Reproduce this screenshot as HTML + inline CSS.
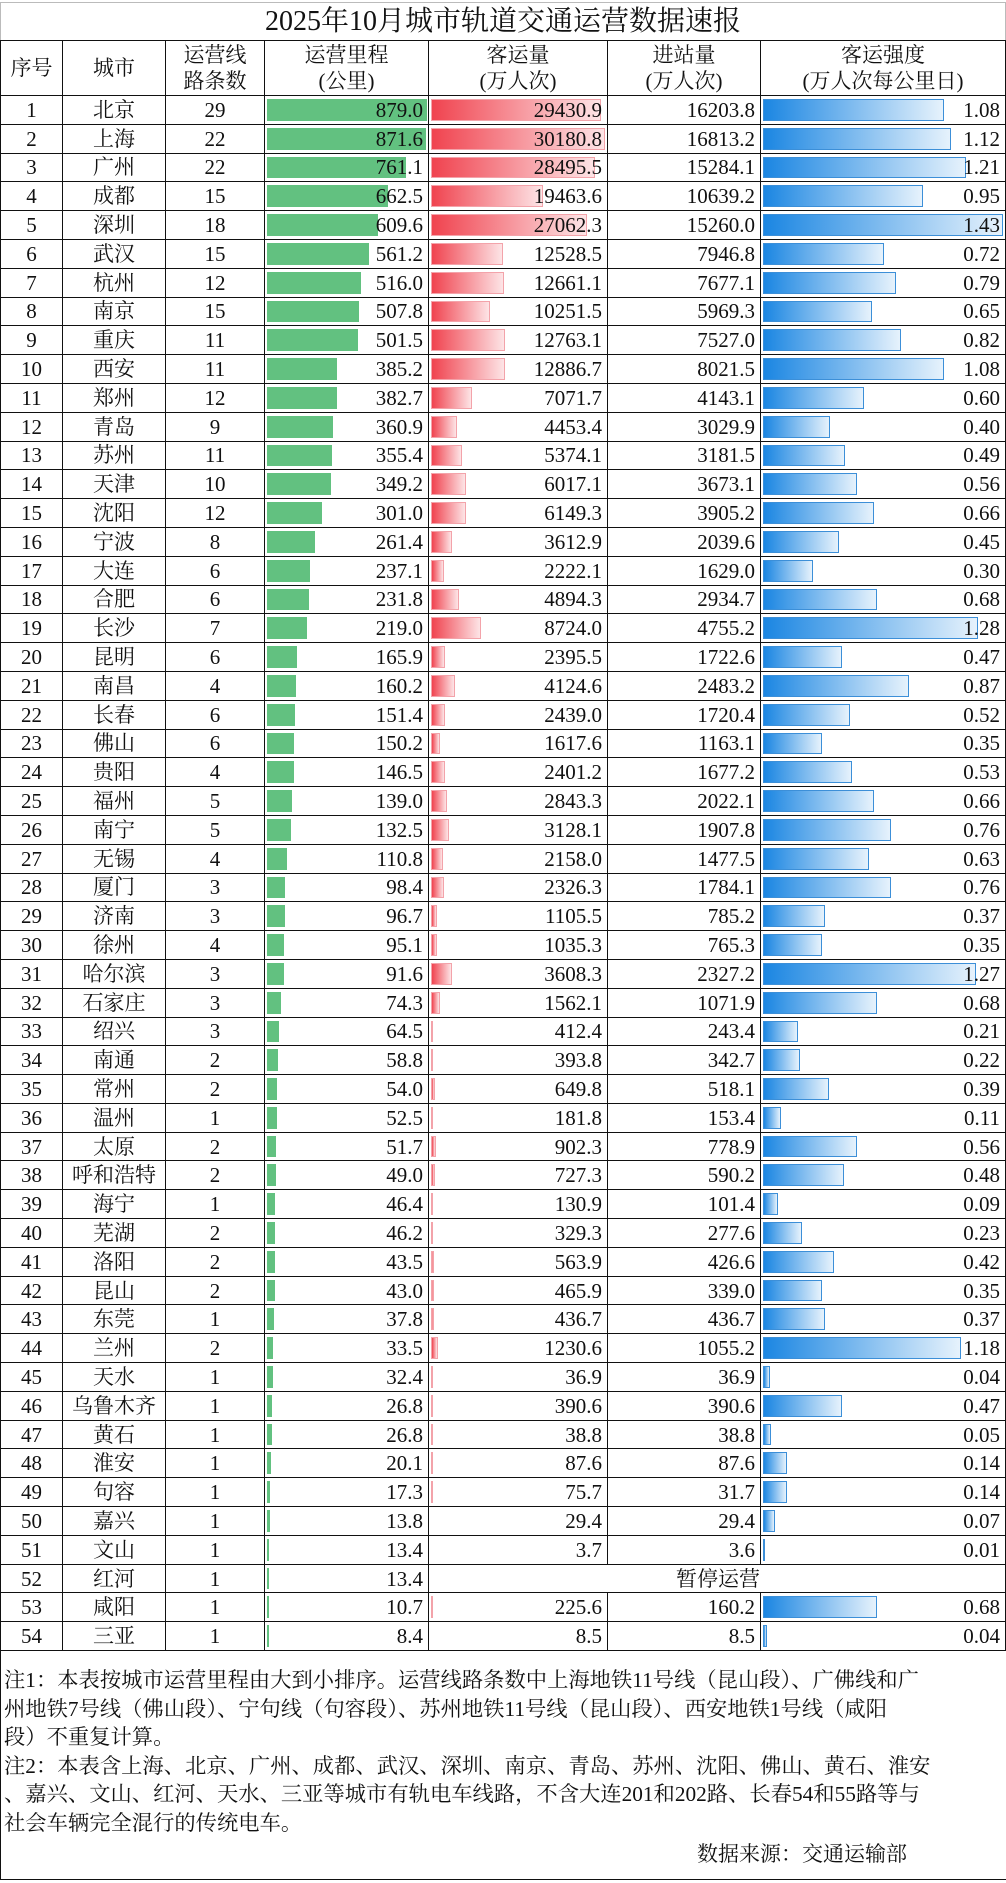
<!DOCTYPE html>
<html><head><meta charset="utf-8">
<style>
*{margin:0;padding:0;box-sizing:border-box}
body{width:1006px;height:1883px;background:#fff;font-family:"Liberation Serif","Noto Serif CJK SC",serif;color:#111;overflow:hidden;position:relative}
.title{position:absolute;left:0;top:2px;width:1006px;height:38px;border:1px solid #bbb;border-bottom:none;text-align:center;font-size:28px;line-height:38px}
table{position:absolute;left:0;top:40px;border-collapse:collapse;table-layout:fixed;width:1005px}
td{border:1.5px solid #111;position:relative;font-size:21px;height:28.8px;padding:0 5px;text-align:right;white-space:nowrap;line-height:26px}
tr.h td{height:55px;text-align:center;line-height:26px;font-size:21px}
td.c{text-align:center;padding:0}
td span{position:relative}
i{position:absolute;left:2px;top:3px;bottom:3px;display:block}
.g i{background:#62c180}
.r i{background:linear-gradient(90deg,#f0434f,#fde4e6);border:1px solid #f3a3aa}
.b i{background:linear-gradient(90deg,#1b86e2,#e6f2fc);border:1px solid #3c8fd8}
.notes{position:absolute;left:4px;top:1666px;font-size:21.3px;line-height:28.5px;white-space:nowrap;font-family:"Liberation Serif","Noto Serif CJK SC",serif}
.src{position:absolute;left:697px;top:1838px;font-size:21px}
.bot{position:absolute;left:0;top:1879px;width:1006px;border-top:1.5px solid #111}
.lb{position:absolute;left:0;top:1647px;height:233px;border-left:1.5px solid #111}
</style></head><body>
<div class="title">2025年10月城市轨道交通运营数据速报</div>
<table>
<colgroup><col style="width:62px"><col style="width:103px"><col style="width:99px"><col style="width:164px"><col style="width:179px"><col style="width:153px"><col style="width:245px"></colgroup>
<tr class="h"><td>序号</td><td>城市</td><td>运营线<br>路条数</td><td>运营里程<br>(公里)</td><td>客运量<br>(万人次)</td><td>进站量<br>(万人次)</td><td>客运强度<br>(万人次每公里日)</td></tr>
<tr style="height:25px"><td class="c" style="height:25px">1</td><td class="c">北京</td><td class="c">29</td><td class="g"><i style="width:160px"></i><span>879.0</span></td><td class="r"><i style="width:170px"></i><span>29430.9</span></td><td>16203.8</td><td class="b"><i style="width:181px"></i><span>1.08</span></td></tr>
<tr><td class="c">2</td><td class="c">上海</td><td class="c">22</td><td class="g"><i style="width:159px"></i><span>871.6</span></td><td class="r"><i style="width:174px"></i><span>30180.8</span></td><td>16813.2</td><td class="b"><i style="width:188px"></i><span>1.12</span></td></tr>
<tr><td class="c">3</td><td class="c">广州</td><td class="c">22</td><td class="g"><i style="width:139px"></i><span>761.1</span></td><td class="r"><i style="width:164px"></i><span>28495.5</span></td><td>15284.1</td><td class="b"><i style="width:203px"></i><span>1.21</span></td></tr>
<tr><td class="c">4</td><td class="c">成都</td><td class="c">15</td><td class="g"><i style="width:121px"></i><span>662.5</span></td><td class="r"><i style="width:112px"></i><span>19463.6</span></td><td>10639.2</td><td class="b"><i style="width:160px"></i><span>0.95</span></td></tr>
<tr><td class="c">5</td><td class="c">深圳</td><td class="c">18</td><td class="g"><i style="width:111px"></i><span>609.6</span></td><td class="r"><i style="width:156px"></i><span>27062.3</span></td><td>15260.0</td><td class="b"><i style="width:240px"></i><span>1.43</span></td></tr>
<tr><td class="c">6</td><td class="c">武汉</td><td class="c">15</td><td class="g"><i style="width:102px"></i><span>561.2</span></td><td class="r"><i style="width:72px"></i><span>12528.5</span></td><td>7946.8</td><td class="b"><i style="width:121px"></i><span>0.72</span></td></tr>
<tr><td class="c">7</td><td class="c">杭州</td><td class="c">12</td><td class="g"><i style="width:94px"></i><span>516.0</span></td><td class="r"><i style="width:73px"></i><span>12661.1</span></td><td>7677.1</td><td class="b"><i style="width:133px"></i><span>0.79</span></td></tr>
<tr><td class="c">8</td><td class="c">南京</td><td class="c">15</td><td class="g"><i style="width:92px"></i><span>507.8</span></td><td class="r"><i style="width:59px"></i><span>10251.5</span></td><td>5969.3</td><td class="b"><i style="width:109px"></i><span>0.65</span></td></tr>
<tr><td class="c">9</td><td class="c">重庆</td><td class="c">11</td><td class="g"><i style="width:91px"></i><span>501.5</span></td><td class="r"><i style="width:74px"></i><span>12763.1</span></td><td>7527.0</td><td class="b"><i style="width:138px"></i><span>0.82</span></td></tr>
<tr><td class="c">10</td><td class="c">西安</td><td class="c">11</td><td class="g"><i style="width:70px"></i><span>385.2</span></td><td class="r"><i style="width:74px"></i><span>12886.7</span></td><td>8021.5</td><td class="b"><i style="width:181px"></i><span>1.08</span></td></tr>
<tr><td class="c">11</td><td class="c">郑州</td><td class="c">12</td><td class="g"><i style="width:70px"></i><span>382.7</span></td><td class="r"><i style="width:41px"></i><span>7071.7</span></td><td>4143.1</td><td class="b"><i style="width:101px"></i><span>0.60</span></td></tr>
<tr><td class="c">12</td><td class="c">青岛</td><td class="c">9</td><td class="g"><i style="width:66px"></i><span>360.9</span></td><td class="r"><i style="width:26px"></i><span>4453.4</span></td><td>3029.9</td><td class="b"><i style="width:67px"></i><span>0.40</span></td></tr>
<tr><td class="c">13</td><td class="c">苏州</td><td class="c">11</td><td class="g"><i style="width:65px"></i><span>355.4</span></td><td class="r"><i style="width:31px"></i><span>5374.1</span></td><td>3181.5</td><td class="b"><i style="width:82px"></i><span>0.49</span></td></tr>
<tr><td class="c">14</td><td class="c">天津</td><td class="c">10</td><td class="g"><i style="width:64px"></i><span>349.2</span></td><td class="r"><i style="width:35px"></i><span>6017.1</span></td><td>3673.1</td><td class="b"><i style="width:94px"></i><span>0.56</span></td></tr>
<tr><td class="c">15</td><td class="c">沈阳</td><td class="c">12</td><td class="g"><i style="width:55px"></i><span>301.0</span></td><td class="r"><i style="width:35px"></i><span>6149.3</span></td><td>3905.2</td><td class="b"><i style="width:111px"></i><span>0.66</span></td></tr>
<tr><td class="c">16</td><td class="c">宁波</td><td class="c">8</td><td class="g"><i style="width:48px"></i><span>261.4</span></td><td class="r"><i style="width:21px"></i><span>3612.9</span></td><td>2039.6</td><td class="b"><i style="width:76px"></i><span>0.45</span></td></tr>
<tr><td class="c">17</td><td class="c">大连</td><td class="c">6</td><td class="g"><i style="width:43px"></i><span>237.1</span></td><td class="r"><i style="width:13px"></i><span>2222.1</span></td><td>1629.0</td><td class="b"><i style="width:50px"></i><span>0.30</span></td></tr>
<tr><td class="c">18</td><td class="c">合肥</td><td class="c">6</td><td class="g"><i style="width:42px"></i><span>231.8</span></td><td class="r"><i style="width:28px"></i><span>4894.3</span></td><td>2934.7</td><td class="b"><i style="width:114px"></i><span>0.68</span></td></tr>
<tr><td class="c">19</td><td class="c">长沙</td><td class="c">7</td><td class="g"><i style="width:40px"></i><span>219.0</span></td><td class="r"><i style="width:50px"></i><span>8724.0</span></td><td>4755.2</td><td class="b"><i style="width:215px"></i><span>1.28</span></td></tr>
<tr><td class="c">20</td><td class="c">昆明</td><td class="c">6</td><td class="g"><i style="width:30px"></i><span>165.9</span></td><td class="r"><i style="width:14px"></i><span>2395.5</span></td><td>1722.6</td><td class="b"><i style="width:79px"></i><span>0.47</span></td></tr>
<tr><td class="c">21</td><td class="c">南昌</td><td class="c">4</td><td class="g"><i style="width:29px"></i><span>160.2</span></td><td class="r"><i style="width:24px"></i><span>4124.6</span></td><td>2483.2</td><td class="b"><i style="width:146px"></i><span>0.87</span></td></tr>
<tr><td class="c">22</td><td class="c">长春</td><td class="c">6</td><td class="g"><i style="width:28px"></i><span>151.4</span></td><td class="r"><i style="width:14px"></i><span>2439.0</span></td><td>1720.4</td><td class="b"><i style="width:87px"></i><span>0.52</span></td></tr>
<tr><td class="c">23</td><td class="c">佛山</td><td class="c">6</td><td class="g"><i style="width:27px"></i><span>150.2</span></td><td class="r"><i style="width:9px"></i><span>1617.6</span></td><td>1163.1</td><td class="b"><i style="width:59px"></i><span>0.35</span></td></tr>
<tr><td class="c">24</td><td class="c">贵阳</td><td class="c">4</td><td class="g"><i style="width:27px"></i><span>146.5</span></td><td class="r"><i style="width:14px"></i><span>2401.2</span></td><td>1677.2</td><td class="b"><i style="width:89px"></i><span>0.53</span></td></tr>
<tr><td class="c">25</td><td class="c">福州</td><td class="c">5</td><td class="g"><i style="width:25px"></i><span>139.0</span></td><td class="r"><i style="width:16px"></i><span>2843.3</span></td><td>2022.1</td><td class="b"><i style="width:111px"></i><span>0.66</span></td></tr>
<tr><td class="c">26</td><td class="c">南宁</td><td class="c">5</td><td class="g"><i style="width:24px"></i><span>132.5</span></td><td class="r"><i style="width:18px"></i><span>3128.1</span></td><td>1907.8</td><td class="b"><i style="width:128px"></i><span>0.76</span></td></tr>
<tr><td class="c">27</td><td class="c">无锡</td><td class="c">4</td><td class="g"><i style="width:20px"></i><span>110.8</span></td><td class="r"><i style="width:12px"></i><span>2158.0</span></td><td>1477.5</td><td class="b"><i style="width:106px"></i><span>0.63</span></td></tr>
<tr><td class="c">28</td><td class="c">厦门</td><td class="c">3</td><td class="g"><i style="width:18px"></i><span>98.4</span></td><td class="r"><i style="width:13px"></i><span>2326.3</span></td><td>1784.1</td><td class="b"><i style="width:128px"></i><span>0.76</span></td></tr>
<tr><td class="c">29</td><td class="c">济南</td><td class="c">3</td><td class="g"><i style="width:18px"></i><span>96.7</span></td><td class="r"><i style="width:6px"></i><span>1105.5</span></td><td>785.2</td><td class="b"><i style="width:62px"></i><span>0.37</span></td></tr>
<tr><td class="c">30</td><td class="c">徐州</td><td class="c">4</td><td class="g"><i style="width:17px"></i><span>95.1</span></td><td class="r"><i style="width:6px"></i><span>1035.3</span></td><td>765.3</td><td class="b"><i style="width:59px"></i><span>0.35</span></td></tr>
<tr><td class="c">31</td><td class="c">哈尔滨</td><td class="c">3</td><td class="g"><i style="width:17px"></i><span>91.6</span></td><td class="r"><i style="width:21px"></i><span>3608.3</span></td><td>2327.2</td><td class="b"><i style="width:213px"></i><span>1.27</span></td></tr>
<tr><td class="c">32</td><td class="c">石家庄</td><td class="c">3</td><td class="g"><i style="width:14px"></i><span>74.3</span></td><td class="r"><i style="width:9px"></i><span>1562.1</span></td><td>1071.9</td><td class="b"><i style="width:114px"></i><span>0.68</span></td></tr>
<tr><td class="c">33</td><td class="c">绍兴</td><td class="c">3</td><td class="g"><i style="width:12px"></i><span>64.5</span></td><td class="r"><i style="width:2px"></i><span>412.4</span></td><td>243.4</td><td class="b"><i style="width:35px"></i><span>0.21</span></td></tr>
<tr><td class="c">34</td><td class="c">南通</td><td class="c">2</td><td class="g"><i style="width:11px"></i><span>58.8</span></td><td class="r"><i style="width:2px"></i><span>393.8</span></td><td>342.7</td><td class="b"><i style="width:37px"></i><span>0.22</span></td></tr>
<tr><td class="c">35</td><td class="c">常州</td><td class="c">2</td><td class="g"><i style="width:10px"></i><span>54.0</span></td><td class="r"><i style="width:4px"></i><span>649.8</span></td><td>518.1</td><td class="b"><i style="width:66px"></i><span>0.39</span></td></tr>
<tr><td class="c">36</td><td class="c">温州</td><td class="c">1</td><td class="g"><i style="width:10px"></i><span>52.5</span></td><td class="r"><i style="width:1px"></i><span>181.8</span></td><td>153.4</td><td class="b"><i style="width:18px"></i><span>0.11</span></td></tr>
<tr><td class="c">37</td><td class="c">太原</td><td class="c">2</td><td class="g"><i style="width:9px"></i><span>51.7</span></td><td class="r"><i style="width:5px"></i><span>902.3</span></td><td>778.9</td><td class="b"><i style="width:94px"></i><span>0.56</span></td></tr>
<tr><td class="c">38</td><td class="c">呼和浩特</td><td class="c">2</td><td class="g"><i style="width:9px"></i><span>49.0</span></td><td class="r"><i style="width:4px"></i><span>727.3</span></td><td>590.2</td><td class="b"><i style="width:81px"></i><span>0.48</span></td></tr>
<tr><td class="c">39</td><td class="c">海宁</td><td class="c">1</td><td class="g"><i style="width:8px"></i><span>46.4</span></td><td class="r"><i style="width:1px"></i><span>130.9</span></td><td>101.4</td><td class="b"><i style="width:15px"></i><span>0.09</span></td></tr>
<tr><td class="c">40</td><td class="c">芜湖</td><td class="c">2</td><td class="g"><i style="width:8px"></i><span>46.2</span></td><td class="r"><i style="width:2px"></i><span>329.3</span></td><td>277.6</td><td class="b"><i style="width:39px"></i><span>0.23</span></td></tr>
<tr><td class="c">41</td><td class="c">洛阳</td><td class="c">2</td><td class="g"><i style="width:8px"></i><span>43.5</span></td><td class="r"><i style="width:3px"></i><span>563.9</span></td><td>426.6</td><td class="b"><i style="width:71px"></i><span>0.42</span></td></tr>
<tr><td class="c">42</td><td class="c">昆山</td><td class="c">2</td><td class="g"><i style="width:8px"></i><span>43.0</span></td><td class="r"><i style="width:3px"></i><span>465.9</span></td><td>339.0</td><td class="b"><i style="width:59px"></i><span>0.35</span></td></tr>
<tr><td class="c">43</td><td class="c">东莞</td><td class="c">1</td><td class="g"><i style="width:7px"></i><span>37.8</span></td><td class="r"><i style="width:3px"></i><span>436.7</span></td><td>436.7</td><td class="b"><i style="width:62px"></i><span>0.37</span></td></tr>
<tr><td class="c">44</td><td class="c">兰州</td><td class="c">2</td><td class="g"><i style="width:6px"></i><span>33.5</span></td><td class="r"><i style="width:7px"></i><span>1230.6</span></td><td>1055.2</td><td class="b"><i style="width:198px"></i><span>1.18</span></td></tr>
<tr><td class="c">45</td><td class="c">天水</td><td class="c">1</td><td class="g"><i style="width:6px"></i><span>32.4</span></td><td class="r"><i style="width:1px"></i><span>36.9</span></td><td>36.9</td><td class="b"><i style="width:7px"></i><span>0.04</span></td></tr>
<tr><td class="c">46</td><td class="c">乌鲁木齐</td><td class="c">1</td><td class="g"><i style="width:5px"></i><span>26.8</span></td><td class="r"><i style="width:2px"></i><span>390.6</span></td><td>390.6</td><td class="b"><i style="width:79px"></i><span>0.47</span></td></tr>
<tr><td class="c">47</td><td class="c">黄石</td><td class="c">1</td><td class="g"><i style="width:5px"></i><span>26.8</span></td><td class="r"><i style="width:1px"></i><span>38.8</span></td><td>38.8</td><td class="b"><i style="width:8px"></i><span>0.05</span></td></tr>
<tr><td class="c">48</td><td class="c">淮安</td><td class="c">1</td><td class="g"><i style="width:4px"></i><span>20.1</span></td><td class="r"><i style="width:1px"></i><span>87.6</span></td><td>87.6</td><td class="b"><i style="width:24px"></i><span>0.14</span></td></tr>
<tr><td class="c">49</td><td class="c">句容</td><td class="c">1</td><td class="g"><i style="width:3px"></i><span>17.3</span></td><td class="r"><i style="width:1px"></i><span>75.7</span></td><td>31.7</td><td class="b"><i style="width:24px"></i><span>0.14</span></td></tr>
<tr><td class="c">50</td><td class="c">嘉兴</td><td class="c">1</td><td class="g"><i style="width:3px"></i><span>13.8</span></td><td>29.4</td><td>29.4</td><td class="b"><i style="width:12px"></i><span>0.07</span></td></tr>
<tr><td class="c">51</td><td class="c">文山</td><td class="c">1</td><td class="g"><i style="width:2px"></i><span>13.4</span></td><td>3.7</td><td>3.6</td><td class="b"><i style="width:2px"></i><span>0.01</span></td></tr>
<tr><td class="c">52</td><td class="c">红河</td><td class="c">1</td><td class="g"><i style="width:2px"></i><span>13.4</span></td><td colspan="3" style="text-align:left;padding-left:247px">暂停运营</td></tr>
<tr><td class="c">53</td><td class="c">咸阳</td><td class="c">1</td><td class="g"><i style="width:2px"></i><span>10.7</span></td><td class="r"><i style="width:1px"></i><span>225.6</span></td><td>160.2</td><td class="b"><i style="width:114px"></i><span>0.68</span></td></tr>
<tr><td class="c">54</td><td class="c">三亚</td><td class="c">1</td><td class="g"><i style="width:2px"></i><span>8.4</span></td><td>8.5</td><td>8.5</td><td class="b"><i style="width:4px"></i><span>0.04</span></td></tr>
</table>
<div class="lb"></div>
<div class="notes">注1：本表按城市运营里程由大到小排序。运营线路条数中上海地铁11号线（昆山段）、广佛线和广<br>州地铁7号线（佛山段）、宁句线（句容段）、苏州地铁11号线（昆山段）、西安地铁1号线（咸阳<br>段）不重复计算。<br>注2：本表含上海、北京、广州、成都、武汉、深圳、南京、青岛、苏州、沈阳、佛山、黄石、淮安<br>、嘉兴、文山、红河、天水、三亚等城市有轨电车线路，不含大连201和202路、长春54和55路等与<br>社会车辆完全混行的传统电车。</div>
<div class="src">数据来源：交通运输部</div>
<div class="bot"></div>
</body></html>
